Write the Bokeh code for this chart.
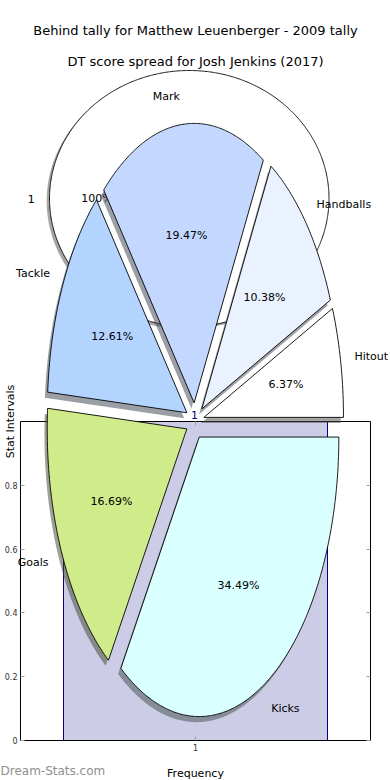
import numpy as np
from bokeh.plotting import figure
from bokeh.models import LinearAxis, FixedTicker, CustomJSTickFormatter, ColumnDataSource, Range1d
from bokeh.core.properties import value
from bokeh.embed import file_html
from bokeh.resources import INLINE

# ---------------- data ----------------
titles = ["Behind tally for Matthew Leuenberger - 2009 tally",
          "DT score spread for Josh Jenkins (2017)"]
categories = ["Hitout", "Handballs", "Mark", "Tackle", "Goals", "Kicks"]
shares = [6.37, 10.38, 19.47, 12.61, 16.69, 34.49]
slice_colors = ["#ffffff", "#ebf2ff", "#c4d8ff", "#b3d4ff", "#d0eb8a", "#d9ffff"]
ring_labels = ["1"]
ring_values = [1.0]
bar_x = [1]
bar_values = [1.0]
bar_labels = ["1"]
y_ticks = [0.0, 0.2, 0.4, 0.6, 0.8]
x_ticks = [1]
x_title = "Frequency"
y_title = "Stat Intervals"
watermark = "Dream-Stats.com"

# ---------------- layout constants (figure pixels) ----------------
W, H = 390, 780
FL, FR, FT, FB = 20, 370, 421, 740           # frame edges
X1_FIG, PX_X = 195.0, 330.0                  # fig x of x=1, px per x unit
PX_Y = float(FB - FT)                        # px per y unit


def dx(fx):
    return 1 + (fx - X1_FIG) / PX_X


def dy(fy):
    return (FB - fy) / PX_Y


FONT = value("DejaVu Sans")
# a point inside the frame, appended (NaN separated, zero area) to every polygon so
# that the viewport culling keeps polygons lying mostly outside the frame
ANCHOR = (1.0, 0.5)

p = figure(width=W, height=H, output_backend="svg", toolbar_location=None,
           x_range=Range1d(dx(FL), dx(FR)), y_range=Range1d(0, 1),
           min_border_left=FL, min_border_right=W - FR,
           min_border_top=FT, min_border_bottom=H - FB)
p.outline_line_color = None
p.xgrid.grid_line_color = None
p.ygrid.grid_line_color = None
p.background_fill_color = "white"
p.border_fill_color = "white"


def style_axis(ax, ticks, labels=True):
    ax.ticker = FixedTicker(ticks=ticks)
    ax.major_tick_in = 4
    ax.major_tick_out = 0
    ax.minor_tick_line_color = None
    ax.major_tick_line_color = "#a0a0a0"
    ax.axis_line_color = "black"
    ax.axis_line_width = 1
    ax.major_label_text_font = "DejaVu Sans"
    ax.major_label_text_font_size = "8px"
    ax.major_label_text_color = "#333333"
    ax.major_label_standoff = 3
    if not labels:
        ax.formatter = CustomJSTickFormatter(code="return ''")
        ax.major_label_standoff = 0


style_axis(p.xaxis[0], x_ticks)
style_axis(p.yaxis[0], y_ticks)
ra = LinearAxis()
style_axis(ra, y_ticks, labels=False)
p.add_layout(ra, "right")
ta = LinearAxis()
style_axis(ta, x_ticks, labels=False)
p.add_layout(ta, "above")

# ---------------- bar ----------------
p.vbar(x=bar_x, top=bar_values, width=0.8, bottom=0,
       fill_color="#cccce6", line_color="#00008b", line_width=1)


# ---------------- helpers ----------------
def shadow_of(hexcol):
    h = hexcol.lstrip("#")
    r, g, b = (int(h[i:i + 2], 16) for i in (0, 2, 4))
    return "#%02x%02x%02x" % (int(0.3 * r), int(0.3 * g), int(0.3 * b))


def wedge_polys(vals, cx, cy, rx, ry, explode):
    v = np.asarray(vals, float)
    frac = v / v.sum() if v.sum() > 1 else v
    th = 2 * np.pi * np.concatenate([[0.0], np.cumsum(frac)])
    xs, ys, mids, apex = [], [], [], []
    for i in range(len(v)):
        t1, t2 = th[i], th[i + 1]
        m = 0.5 * (t1 + t2)
        ax_ = cx + explode * rx * np.cos(m)
        ay_ = cy + explode * ry * np.sin(m)
        n = max(int(np.degrees(t2 - t1) * 2), 8)
        t = np.linspace(t1, t2, n)
        if abs(t2 - t1 - 2 * np.pi) < 1e-9:
            xs.append(list(ax_ + rx * np.cos(t)))
            ys.append(list(ay_ + ry * np.sin(t)))
        else:
            xs.append([ax_] + list(ax_ + rx * np.cos(t)))
            ys.append([ay_] + list(ay_ + ry * np.sin(t)))
        mids.append(m)
        apex.append((ax_, ay_))
    return frac, xs, ys, mids, apex


def draw_pie(vals, colors, cx, cy, rx, ry, explode):
    frac, xs, ys, mids, apex = wedge_polys(vals, cx, cy, rx, ry, explode)
    sx = [[xx - 0.02 * rx for xx in x] + [np.nan, ANCHOR[0]] for x in xs]
    sy = [[yy - 0.02 * ry for yy in y] + [np.nan, ANCHOR[1]] for y in ys]
    p.patches(sx, sy, fill_color=[shadow_of(c) for c in colors], fill_alpha=0.5,
              line_color=None, level="overlay")
    fx = [x + [np.nan, ANCHOR[0]] for x in xs]
    fy = [y + [np.nan, ANCHOR[1]] for y in ys]
    p.patches(fx, fy, fill_color=colors, line_color="black", line_width=0.9,
              level="overlay")
    return frac, mids, apex


def pie_texts(frac, mids, apex, labels, rx, ry, pct_fmt, pctdist=0.6, labeldist=1.1):
    lx, ly, la, px_, py_, pt = [], [], [], [], [], []
    for (ax_, ay_), m, f in zip(apex, mids, frac):
        lx.append(ax_ + labeldist * rx * np.cos(m))
        ly.append(ay_ + labeldist * ry * np.sin(m))
        la.append("left" if np.cos(m) > 1e-9 else "right")
        px_.append(ax_ + pctdist * rx * np.cos(m))
        py_.append(ay_ + pctdist * ry * np.sin(m))
        pt.append(pct_fmt % (100 * f))
    src = ColumnDataSource(dict(x=lx, y=ly, align=la, text=list(labels)))
    p.text(x="x", y="y", text="text", text_align="align", source=src,
           text_baseline="middle", text_font=FONT, text_font_size="11px",
           text_color="black", level="overlay")
    p.text(x=px_, y=py_, text=pt, text_align="center",
           text_baseline="middle", text_font=FONT, text_font_size="11px",
           text_color="black", level="overlay")


# ---------------- background single-wedge pie ----------------
R_RX, R_RY = 139.75 / PX_X, 128.0 / PX_Y
r = draw_pie(ring_values, ["#ffffff"], dx(188.75), dy(198.0), R_RX, R_RY, 0.0)
pie_texts(*r, ring_labels, R_RX, R_RY, "%.0f%%", pctdist=0.66, labeldist=1.105)

# ---------------- exploded pie ----------------
P_RX, P_RY = 139.6 / PX_X, 279.5 / PX_Y
r = draw_pie(shares, slice_colors, dx(194.5), dy(420.5), P_RX, P_RY, 0.065)
pie_texts(*r, categories, P_RX, P_RY, "%.2f%%")

# bar value label
p.text(x=bar_x, y=bar_values, text=bar_labels, text_align="center",
       text_baseline="bottom", y_offset=-3, x_offset=-1, text_font=FONT,
       text_font_size="11px", text_color="#00008b", level="overlay")

# ---------------- titles & axis titles ----------------
p.text(x=[dx(195)] * 2, y=[dy(30), dy(61)], text=titles, text_align="center",
       text_baseline="middle", text_font=FONT, text_font_size="13px",
       text_color="black", level="overlay")
p.text(x=[dx(10)], y=[dy(421)], text=[y_title], angle=np.pi / 2,
       text_align="center", text_baseline="middle", text_font=FONT,
       text_font_size="11px", text_color="black", level="overlay")
p.text(x=[dx(195)], y=[dy(773)], text=[x_title], text_align="center",
       text_baseline="middle", text_font=FONT, text_font_size="11px",
       text_color="black", level="overlay")
p.text(x=[dx(0)], y=[dy(770)], text=[watermark], text_align="left",
       text_baseline="middle", text_font=FONT, text_font_size="12px",
       text_color="#8f8f8f", level="overlay")

open("out.html", "w").write(file_html(p, INLINE))
